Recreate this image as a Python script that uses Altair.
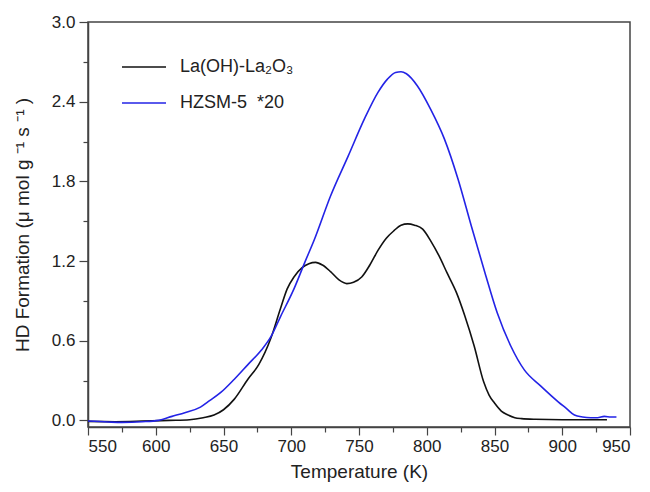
import altair as alt
import pandas as pd

series_names = ["La(OH)-La₂O₃", "HZSM-5\u00a0 *20"]
series_colors = ["#111111", "#2323e6"]

black_T = [550, 570, 590, 610, 625, 635, 643, 650, 658, 668, 676, 685, 692, 697, 702, 708, 713, 718,
           723, 729, 735, 741, 746, 752, 758, 764, 770, 776, 781, 786, 791, 797, 803, 809, 815, 822,
           828, 835, 842, 846, 850, 855, 860, 865, 870, 880, 900, 933]
black_y = [-0.008, -0.01, -0.006, 0.0, 0.005, 0.02, 0.04, 0.08, 0.16, 0.31, 0.42, 0.62, 0.84, 0.99,
           1.08, 1.15, 1.18, 1.19, 1.17, 1.12, 1.06, 1.03, 1.04, 1.08, 1.17, 1.28, 1.37, 1.43, 1.47,
           1.48, 1.47, 1.44, 1.35, 1.24, 1.11, 0.96, 0.79, 0.56, 0.29, 0.19, 0.13, 0.07, 0.04, 0.02,
           0.013, 0.008, 0.005, 0.005]

blue_T = [550, 565, 575, 590, 602, 612, 622, 633, 640, 648, 658, 668, 678, 685, 692, 702, 710, 717,
          729, 742, 754, 764, 771, 777, 781, 785, 793, 803, 813, 823, 833, 843, 852, 862, 872, 884,
          897, 903, 909, 915, 921, 926, 931, 936, 940]
blue_y = [-0.005, -0.012, -0.015, -0.01, 0.0, 0.03, 0.06, 0.10, 0.15, 0.21, 0.31, 0.42, 0.53, 0.63,
          0.78, 0.99, 1.19, 1.36, 1.69, 1.99, 2.27, 2.47, 2.57, 2.62, 2.625, 2.61, 2.52, 2.34, 2.12,
          1.82, 1.46, 1.11, 0.81, 0.56, 0.38, 0.26, 0.14, 0.09, 0.04, 0.025, 0.02, 0.02, 0.03, 0.025,
          0.025]

x_ticks = list(range(550, 951, 25))
y_ticks = [round(i * 0.3, 1) for i in range(0, 11)]

rows = []
for t, v in zip(black_T, black_y):
    rows.append({"T": t, "v": v, "s": series_names[0], "o": 0})
for t, v in zip(blue_T, blue_y):
    rows.append({"T": t, "v": v, "s": series_names[1], "o": 1})
df = pd.DataFrame(rows)

font = "Liberation Sans"
ymajor = "(round(datum.value*10) % 6 == 0)"

chart = alt.Chart(df).mark_line(strokeWidth=1.6, interpolate="monotone").encode(
    x=alt.X("T:Q", scale=alt.Scale(domain=[550, 950], nice=False, zero=False),
            axis=alt.Axis(title="Temperature (K)", values=x_ticks,
                          labelExpr="datum.value % 50 == 0 ? datum.label : ''",
                          tickSize=alt.ExprRef("datum.value % 50 == 0 ? 8 : 5"),
                          grid=False, labelFontSize=17, titleFontSize=19,
                          labelFont=font, titleFont=font, titleFontWeight="normal",
                          labelColor="#222", titleColor="#222", labelOverlap=False,
                          domainColor="#444", tickColor="#444", domainWidth=1.5, tickWidth=1.2,
                          labelPadding=3, titlePadding=8)),
    y=alt.Y("v:Q", scale=alt.Scale(domain=[-0.05, 3.0], nice=False, zero=False),
            axis=alt.Axis(title="HD Formation (μ mol g ⁻¹ s ⁻¹ )", values=y_ticks,
                          labelExpr=ymajor + " ? format(datum.value, '.1f') : ''",
                          tickSize=alt.ExprRef(ymajor + " ? 9 : 5"),
                          grid=False, labelFontSize=17, titleFontSize=19,
                          labelFont=font, titleFont=font, titleFontWeight="normal",
                          labelColor="#222", titleColor="#222", labelOverlap=False,
                          domainColor="#444", tickColor="#444", domainWidth=1.5, tickWidth=1.2,
                          labelPadding=4, titlePadding=19)),
    color=alt.Color("s:N", scale=alt.Scale(domain=series_names, range=series_colors),
                    legend=alt.Legend(title=None, orient="none", legendX=33, legendY=22,
                                      symbolType="stroke", symbolSize=1936, symbolStrokeWidth=1.4,
                                      labelFontSize=18, labelFont=font, labelColor="#222",
                                      labelOffset=13, rowPadding=4)),
    detail="s:N",
    order="o:Q",
).properties(width=542, height=405).configure_view(stroke="#444", strokeWidth=1.5)

chart.save("out.html", embed_options={"renderer": "svg", "actions": False})
